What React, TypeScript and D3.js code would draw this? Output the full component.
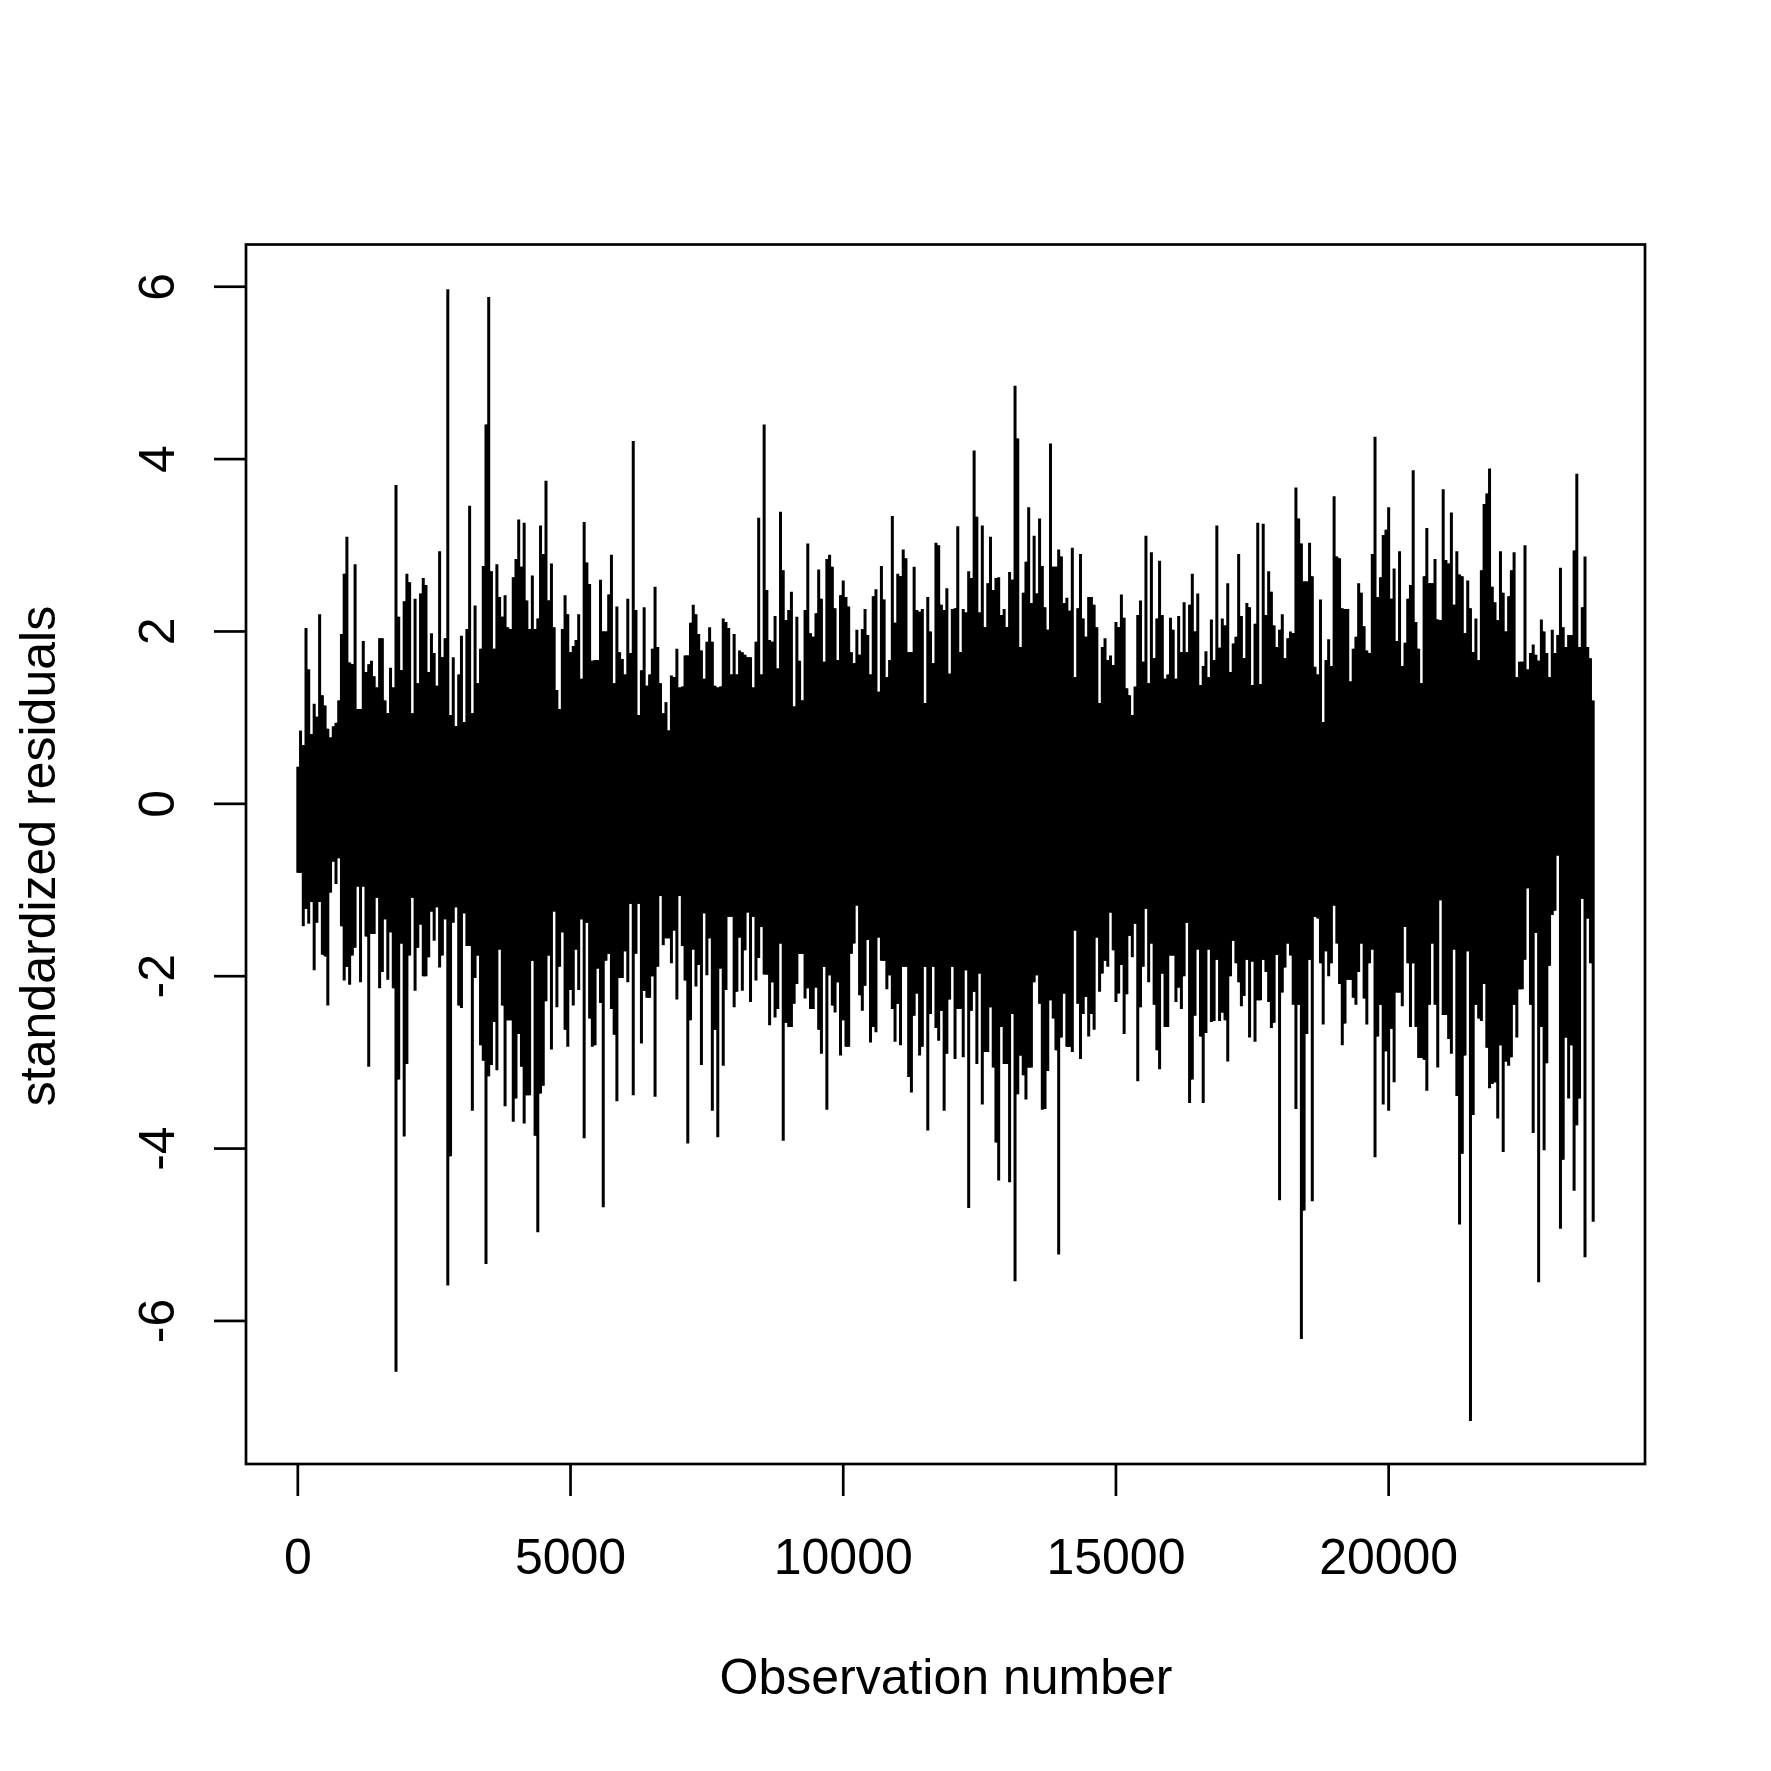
import React from "react";
import * as d3 from "d3";

const xTicks = [0, 5000, 10000, 15000, 20000];
const yTicks = [-6, -4, -2, 0, 2, 4, 6];
const xLabel = "Observation number";
const yLabel = "standardized residuals";
const obsStep = 50;

const upper = [
0.43,0.85,0.68,2.04,1.56,0.81,1.16,1.01,2.2,1.26,
1.14,0.87,0.77,0.9,0.94,1.2,1.97,2.67,3.1,1.64,
1.62,2.78,1.1,1.1,1.89,1.53,1.62,1.66,1.48,1.35,
1.92,1.92,1.2,1.05,1.58,1.35,3.7,2.17,1.55,2.35,
2.67,2.57,1.05,2.38,1.4,2.44,2.62,2.54,1.53,1.98,
1.75,1.37,2.93,1.7,1.92,5.97,1.03,1.7,0.9,1.5,
1.95,0.95,2.03,3.46,1.05,2.3,1.4,1.8,2.76,4.4,
5.88,2.7,1.8,2.78,2.4,2.17,2.42,2.05,2.03,2.63,
2.84,3.3,2.75,3.26,2.36,2.03,2.65,2.03,2.15,3.23,
2.9,3.75,2.36,2.79,2.05,1.32,1.1,2.03,2.42,2.2,
1.76,1.83,1.9,2.2,1.45,3.27,2.8,2.55,1.66,1.67,
1.67,2.6,2.0,2.0,2.43,2.89,1.4,2.29,1.76,1.68,
1.5,2.38,1.75,4.21,2.25,1.03,1.55,2.28,1.37,1.5,
1.8,2.52,1.82,1.4,1.05,1.18,0.85,1.49,1.47,1.8,
1.35,1.36,1.72,1.72,2.1,2.31,2.2,1.97,1.78,1.45,
1.88,2.05,1.88,1.37,1.35,1.36,2.15,2.11,2.04,1.5,
1.97,1.5,1.78,1.76,1.73,1.7,1.7,1.35,1.88,3.32,
1.5,4.4,2.48,1.9,1.88,2.18,1.57,3.39,2.71,2.13,
2.25,2.46,1.13,2.17,1.66,1.2,2.25,3.02,1.98,1.94,
2.21,2.72,2.38,1.65,2.84,2.89,2.75,2.27,1.67,2.42,
2.59,2.4,2.29,1.76,1.63,2.02,1.73,2.03,2.26,1.96,
1.5,2.41,2.49,1.3,2.76,2.37,1.47,1.67,3.34,2.1,
2.67,2.64,2.95,2.85,1.76,1.76,2.75,2.25,2.23,2.26,
1.17,2.4,2.0,1.63,3.03,3.0,2.31,2.25,2.5,1.51,
2.26,2.27,3.22,1.76,2.26,2.22,2.7,2.62,4.1,3.33,
2.22,3.23,2.05,2.56,3.1,2.48,2.62,2.63,2.19,2.26,
2.05,2.69,2.6,4.85,4.24,1.82,2.45,2.81,3.44,2.33,
3.11,2.44,3.31,2.76,2.28,2.02,4.18,2.75,2.75,2.95,
2.87,2.33,2.39,2.24,2.97,1.47,2.27,2.9,2.15,1.94,
2.4,2.4,2.31,2.05,1.17,1.82,1.92,1.67,1.72,1.61,
2.11,2.05,2.43,2.16,1.34,1.26,1.03,1.36,2.19,2.36,
1.65,3.11,1.4,2.92,1.69,2.15,2.82,2.19,1.45,1.5,
2.16,2.02,1.45,2.18,1.76,2.34,1.76,2.31,2.67,2.0,
2.44,1.38,1.6,1.77,1.47,2.14,1.67,3.23,1.81,2.15,
2.07,2.56,1.53,1.86,1.94,2.9,2.18,1.69,2.33,2.28,
1.38,2.09,3.26,1.39,3.25,2.19,2.7,2.46,2.07,1.82,
2.02,2.2,1.69,1.92,2.0,1.98,3.67,3.31,3.02,2.58,
2.58,3.03,2.64,1.59,1.5,2.37,0.95,1.67,1.91,1.6,
3.57,2.87,2.85,2.27,2.26,2.26,1.42,1.8,1.94,2.56,
2.45,2.06,1.78,1.75,2.9,4.26,2.4,2.63,3.12,3.18,
3.44,2.38,2.73,1.89,2.93,1.6,1.87,2.38,2.54,3.87,
2.11,1.8,1.4,2.64,3.2,2.56,2.56,2.84,2.14,2.13,
3.65,2.83,2.79,3.38,2.31,2.93,2.66,2.64,1.98,2.59,
2.27,1.76,2.15,1.67,2.71,3.48,3.6,3.89,2.52,2.34,
2.13,2.93,2.45,2.0,2.41,2.71,2.92,1.47,1.65,1.65,
3.0,1.56,1.75,1.85,1.73,1.66,2.14,2.0,1.75,1.47,
2.02,1.75,1.96,2.74,2.05,1.82,1.96,1.96,2.94,3.83,
1.82,2.28,2.87,1.82,1.69,1.2,
];

const lower = [
-0.8,-0.8,-1.42,-1.22,-1.39,-1.14,-1.93,-1.38,-1.14,-1.75,
-1.77,-2.34,-1.03,-0.67,-0.93,-0.63,-1.42,-2.05,-1.89,-2.1,
-1.76,-1.67,-0.96,-2.07,-0.96,-1.54,-3.05,-1.51,-1.51,-1.09,
-2.14,-1.95,-1.34,-2.04,-1.49,-2.14,-6.59,-3.2,-1.62,-3.86,
-3.02,-1.76,-1.09,-2.17,-1.67,-1.4,-2.0,-2.0,-1.78,-1.25,
-1.59,-1.2,-1.9,-1.76,-1.34,-5.59,-4.09,-1.38,-1.2,-2.34,
-2.37,-1.27,-1.65,-1.65,-3.56,-2.02,-1.76,-2.8,-2.98,-5.34,
-3.16,-3.03,-2.53,-3.09,-1.69,-2.34,-3.51,-2.51,-2.51,-3.69,
-3.42,-2.67,-3.05,-3.71,-3.38,-3.38,-1.82,-3.85,-4.97,-3.36,
-3.27,-2.29,-1.76,-2.85,-1.25,-2.36,-1.89,-1.49,-2.62,-2.82,
-2.16,-2.34,-1.69,-2.16,-1.34,-3.88,-1.38,-2.49,-2.82,-2.8,
-1.91,-2.31,-4.68,-1.82,-1.74,-2.38,-2.68,-3.45,-2.02,-2.02,
-1.71,-2.07,-1.16,-3.38,-1.74,-1.16,-2.78,-2.17,-2.25,-2.25,
-2.0,-3.4,-1.89,-1.07,-1.64,-1.56,-1.56,-1.85,-1.47,-2.27,
-1.07,-1.65,-2.05,-3.94,-2.51,-1.69,-2.12,-1.87,-3.03,-1.27,
-1.99,-1.56,-3.56,-2.62,-3.87,-1.91,-3.04,-2.16,-1.31,-1.31,
-2.36,-2.18,-1.55,-2.17,-1.7,-1.26,-2.3,-1.31,-2.05,-1.79,
-1.43,-1.98,-1.98,-2.57,-2.07,-2.48,-2.38,-1.62,-3.91,-2.54,
-2.59,-2.59,-2.32,-2.09,-1.74,-1.74,-2.26,-2.14,-2.38,-2.38,
-2.13,-2.62,-2.9,-1.89,-3.55,-1.99,-2.34,-2.42,-2.07,-2.92,
-2.51,-2.82,-2.82,-1.74,-1.62,-1.18,-2.22,-2.4,-2.11,-1.58,
-2.77,-2.59,-2.65,-1.55,-1.82,-1.82,-2.15,-1.99,-2.38,-2.76,
-2.32,-2.8,-1.89,-1.89,-3.17,-3.35,-2.46,-2.2,-2.92,-2.82,
-1.89,-3.79,-2.44,-1.89,-2.6,-2.75,-2.4,-3.56,-2.9,-2.27,
-1.89,-2.96,-2.38,-2.38,-2.94,-1.93,-4.69,-2.4,-2.18,-3.02,
-1.97,-3.49,-2.88,-2.88,-2.36,-3.06,-3.93,-4.37,-2.59,-3.02,
-3.02,-4.39,-2.44,-5.54,-3.37,-2.92,-3.15,-3.43,-3.06,-3.06,
-2.07,-1.99,-2.32,-3.55,-3.54,-3.1,-2.28,-2.49,-2.86,-5.23,
-2.71,-2.2,-2.82,-2.82,-2.88,-1.47,-2.32,-2.96,-2.44,-2.24,
-2.7,-2.44,-2.62,-1.55,-2.18,-1.97,-1.82,-1.89,-1.26,-1.7,
-2.3,-2.2,-1.87,-2.67,-2.21,-1.53,-1.78,-1.39,-3.22,-2.36,
-1.89,-1.22,-2.07,-1.62,-2.33,-2.86,-3.08,-1.97,-2.59,-2.59,
-1.76,-1.76,-2.3,-2.13,-2.38,-2.0,-1.38,-3.47,-3.2,-2.46,
-1.69,-2.7,-3.47,-2.66,-1.69,-2.53,-2.52,-1.81,-2.52,-2.42,
-2.51,-2.99,-2.0,-1.59,-1.85,-2.07,-2.35,-2.23,-1.81,-2.71,
-1.83,-2.76,-2.28,-2.28,-1.81,-1.95,-2.3,-2.6,-2.54,-1.75,
-4.6,-2.19,-1.9,-1.62,-1.76,-2.33,-3.54,-2.33,-6.21,-4.72,
-2.67,-1.81,-4.61,-1.31,-1.33,-1.85,-2.56,-1.71,-2.0,-1.85,
-1.18,-1.62,-2.09,-2.8,-2.55,-2.04,-2.04,-2.25,-2.33,-1.95,
-1.62,-2.26,-2.56,-1.85,-1.69,-4.1,-2.7,-2.33,-3.49,-2.87,
-3.56,-2.61,-3.23,-2.19,-2.19,-2.35,-1.43,-1.85,-2.59,-1.85,
-2.59,-2.95,-2.95,-2.97,-3.33,-2.33,-1.62,-2.33,-3.06,-1.12,
-2.45,-2.45,-2.73,-2.9,-1.69,-3.39,-4.88,-4.06,-2.92,-1.71,
-7.16,-3.61,-2.33,-2.49,-2.52,-2.09,-2.83,-3.3,-3.25,-3.23,
-3.65,-2.8,-4.04,-2.99,-3.04,-2.94,-2.33,-2.71,-2.15,-2.15,
-1.81,-0.98,-2.33,-3.82,-1.5,-5.55,-2.59,-4.02,-3.01,-1.88,
-1.29,-1.24,-0.6,-4.93,-4.13,-2.71,-3.42,-2.8,-4.49,-3.73,
-3.42,-1.1,-5.26,-1.33,-1.85,-4.85,
];

const W = 1771;
const H = 1771;
const box = { left: 246, right: 1645, top: 244.5, bottom: 1464 };

const x = d3.scaleLinear().domain([-950, 24700]).range([box.left, box.right]);
const y = d3.scaleLinear().domain([-7.66, 6.49]).range([box.bottom, box.top]);

const n = Math.min(upper.length, lower.length);
const idx = d3.range(n);

// Between neighbouring observations the trace overlaps up to the lesser peak.
const body = d3
  .area<number>()
  .curve(d3.curveStepAfter)
  .x((i) => x(i * obsStep))
  .y0((i) => y(Math.max(lower[i], lower[Math.min(i + 1, n - 1)])))
  .y1((i) => y(Math.min(upper[i], upper[Math.min(i + 1, n - 1)])));

const traceLine = d3
  .line<[number, number]>()
  .x((d) => x(d[0]))
  .y((d) => y(d[1]));

const FONT = "'Liberation Sans', Arial, sans-serif";
const LW = 2.7;
const TRACE_LW = 3;
const FS = 50;

export default function App() {
  return (
    <svg
      width={W}
      height={H}
      viewBox={`0 0 ${W} ${H}`}
      style={{ position: "absolute", left: 0, top: 0, background: "#fff" }}
    >
      <path d={body(idx) ?? ""} fill="#000" />
      {idx.map((i) => (
        <path
          key={i}
          d={traceLine([[i * obsStep, lower[i]], [i * obsStep, upper[i]]]) ?? ""}
          stroke="#000"
          strokeWidth={TRACE_LW}
          fill="none"
        />
      ))}
      <rect
        x={box.left}
        y={box.top}
        width={box.right - box.left}
        height={box.bottom - box.top}
        fill="none"
        stroke="#000"
        strokeWidth={LW}
      />
      {xTicks.map((t) => (
        <g key={t}>
          <line x1={x(t)} x2={x(t)} y1={box.bottom} y2={box.bottom + 32} stroke="#000" strokeWidth={LW} />
          <text x={x(t)} y={1574} textAnchor="middle" fontFamily={FONT} fontSize={FS} fill="#000">
            {t}
          </text>
        </g>
      ))}
      {yTicks.map((t) => (
        <g key={t}>
          <line x1={box.left} x2={box.left - 32} y1={y(t)} y2={y(t)} stroke="#000" strokeWidth={LW} />
          <text
            transform={`translate(174,${y(t)}) rotate(-90)`}
            textAnchor="middle"
            fontFamily={FONT}
            fontSize={FS}
            fill="#000"
          >
            {t}
          </text>
        </g>
      ))}
      <text x={946} y={1694} textAnchor="middle" fontFamily={FONT} fontSize={FS} fill="#000">
        {xLabel}
      </text>
      <text
        transform={`translate(55,856) rotate(-90)`}
        textAnchor="middle"
        fontFamily={FONT}
        fontSize={FS}
        fill="#000"
      >
        {yLabel}
      </text>
    </svg>
  );
}
